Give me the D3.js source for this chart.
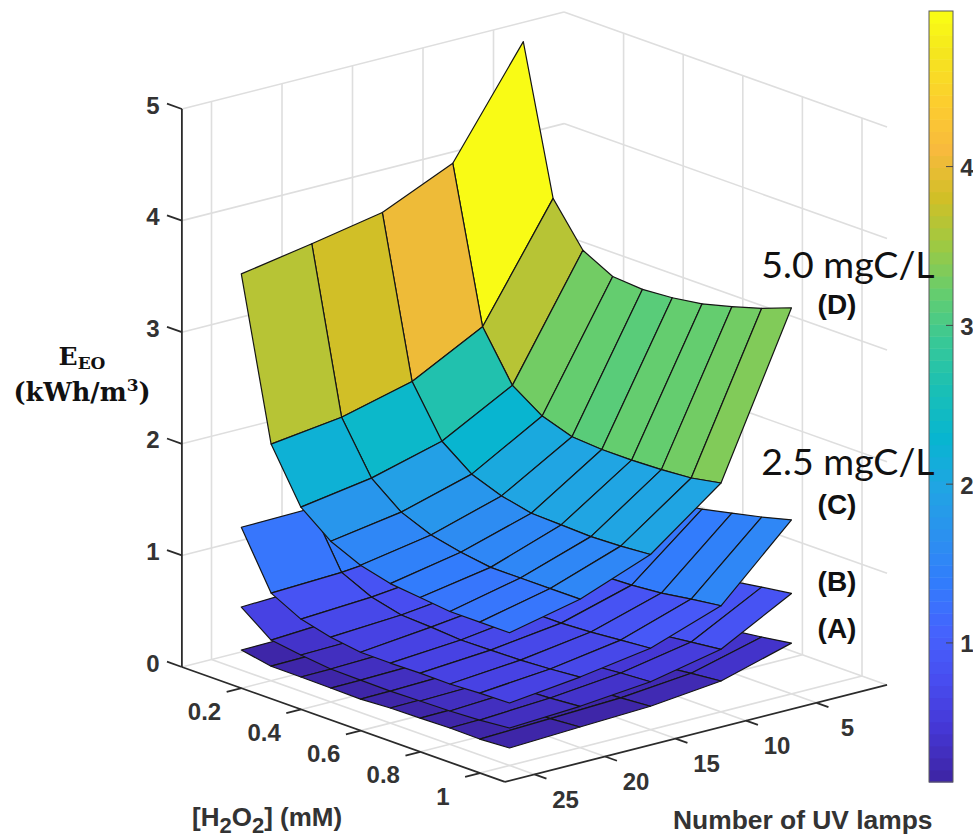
<!DOCTYPE html>
<html>
<head>
<meta charset="utf-8">
<script src="https://cdnjs.cloudflare.com/ajax/libs/d3/7.8.5/d3.min.js"></script>
<style>
  body { margin: 0; background: #fff; }
  text { font-family: "Liberation Sans", Arial, sans-serif; }
</style>
</head>
<body>
<div id="chart"></div>
<script>
var svgWidth = 973;
var svgHeight = 838;

// grid of the surfaces: rows are H2O2 (mM), columns are lamps
var h2o2 = [0.1, 0.2, 0.3, 0.4, 0.5, 0.6, 0.7, 0.8, 0.9, 1.0];
var lamps = [5, 10, 15, 20, 25];

// E_EO, [lamps 5, 10, 15, 20, 25] for every H2O2 value
var surfaceA = [
  [0.40, 0.26, 0.21, 0.19, 0.18],
  [0.32, 0.20, 0.16, 0.14, 0.13],
  [0.29, 0.18, 0.15, 0.135, 0.128],
  [0.28, 0.18, 0.15, 0.13, 0.124],
  [0.29, 0.18, 0.15, 0.13, 0.12],
  [0.30, 0.19, 0.155, 0.145, 0.135],
  [0.33, 0.205, 0.165, 0.15, 0.14],
  [0.38, 0.22, 0.175, 0.16, 0.146],
  [0.415, 0.25, 0.19, 0.165, 0.142],
  [0.455, 0.276, 0.21, 0.185, 0.157]
];
var surfaceB = [
  [1.15, 0.85, 0.70, 0.59, 0.565],
  [0.85, 0.55, 0.45, 0.40, 0.364],
  [0.78, 0.47, 0.39, 0.34, 0.325],
  [0.75, 0.44, 0.35, 0.315, 0.295],
  [0.74, 0.44, 0.345, 0.305, 0.29],
  [0.75, 0.45, 0.345, 0.305, 0.287],
  [0.78, 0.48, 0.36, 0.31, 0.293],
  [0.82, 0.498, 0.39, 0.335, 0.298],
  [0.862, 0.53, 0.413, 0.349, 0.312],
  [0.90, 0.56, 0.43, 0.37, 0.336]
];
var surfaceC = [
  [1.80, 1.46, 1.36, 1.29, 1.28],
  [1.36, 1.00, 0.87, 0.81, 0.785],
  [1.29, 0.88, 0.75, 0.684, 0.647],
  [1.27, 0.83, 0.69, 0.618, 0.58],
  [1.30, 0.83, 0.68, 0.605, 0.54],
  [1.33, 0.84, 0.67, 0.584, 0.538],
  [1.37, 0.85, 0.67, 0.589, 0.543],
  [1.43, 0.874, 0.685, 0.594, 0.54],
  [1.49, 0.915, 0.708, 0.609, 0.554],
  [1.56, 0.95, 0.73, 0.632, 0.56]
];
var surfaceD = [
  [4.99, 4.06, 3.78, 3.66, 3.55],
  [3.68, 2.69, 2.36, 2.20, 2.12],
  [3.31, 2.26, 1.92, 1.75, 1.65],
  [3.17, 2.08, 1.72, 1.54, 1.44],
  [3.15, 1.99, 1.62, 1.43, 1.32],
  [3.17, 1.97, 1.56, 1.37, 1.25],
  [3.21, 1.97, 1.55, 1.33, 1.22],
  [3.28, 1.98, 1.54, 1.33, 1.19],
  [3.36, 2.00, 1.55, 1.33, 1.19],
  [3.46, 2.05, 1.57, 1.33, 1.19]
];

var h2o2Ticks = [0.2, 0.4, 0.6, 0.8, 1];
var h2o2TickLabels = ["0.2", "0.4", "0.6", "0.8", "1"];
var lampTicks = [5, 10, 15, 20, 25];
var zTicks = [0, 1, 2, 3, 4, 5];
var colorTicks = [1, 2, 3, 4];

// limits of the box and of the colour range
var h2o2Max = 1.084;
var lampMax = 27.1;
var zMax = 5;
var colorDomain = [0.124, 4.98];

// parula, sampled along its 64 levels
var parulaLevels = [0, 4, 8, 12, 16, 20, 24, 28, 32, 36, 40, 44, 48, 52, 56, 60, 63];
var parulaColors = ["#3e26a8", "#4537d5", "#484df0", "#4563fd", "#327cfc", "#2b91ef",
  "#20a5e3", "#08b5d0", "#19bfb6", "#37c897", "#64cd6f", "#9dc943", "#d1bf27",
  "#f8ba3d", "#fcce2e", "#f5e61e", "#f9fb15"];

// oblique view: every scale gives a screen offset from the back corner of the floor
var backX = 564;
var backY = 570;
var h2o2X = d3.scaleLinear().domain([0, 1]).range([0, 298]);
var h2o2Y = d3.scaleLinear().domain([0, 1]).range([0, 106]);
var lampX = d3.scaleLinear().domain([0, 1]).range([0, -14.1]);
var lampY = d3.scaleLinear().domain([0, 1]).range([0, 3.58]);
var zY = d3.scaleLinear().domain([0, zMax]).range([0, -558]);

function px(h, n) {
  return backX + h2o2X(h) + lampX(n);
}
function py(h, n, z) {
  return backY + h2o2Y(h) + lampY(n) + zY(z);
}
function segment(a, b) {
  return "M" + px(a[0], a[1]) + "," + py(a[0], a[1], a[2]) +
    "L" + px(b[0], b[1]) + "," + py(b[0], b[1], b[2]);
}

var levelColor = d3.scaleLinear().domain(parulaLevels).range(parulaColors);
var colormap = d3.range(64).map(d => levelColor(d));
var colorScale = d3.scaleQuantize().domain(colorDomain).range(colormap);

var svg = d3.select("#chart")
  .append("svg")
  .attr("width", svgWidth)
  .attr("height", svgHeight)
  .style("display", "block");

// grid on the two back walls and the floor
var gridLines = [];
zTicks.forEach(function(z) {
  gridLines.push(segment([0, lampMax, z], [0, 0, z]));
  gridLines.push(segment([0, 0, z], [h2o2Max, 0, z]));
});
lampTicks.forEach(function(n) {
  gridLines.push(segment([0, n, 0], [0, n, zMax]));
  gridLines.push(segment([0, n, 0], [h2o2Max, n, 0]));
});
h2o2Ticks.forEach(function(h) {
  gridLines.push(segment([h, 0, 0], [h, 0, zMax]));
  gridLines.push(segment([h, 0, 0], [h, lampMax, 0]));
});

svg.append("g")
  .selectAll("path")
  .data(gridLines)
  .enter()
  .append("path")
  .attr("d", d => d)
  .attr("fill", "none")
  .attr("stroke", "#dedede")
  .attr("stroke-width", 1.6);

// axis lines and ticks
var axisColor = "#2b2b2b";
var axisLines = [
  segment([0, lampMax, 0], [0, lampMax, zMax]),
  segment([0, lampMax, 0], [h2o2Max, lampMax, 0]),
  segment([h2o2Max, lampMax, 0], [h2o2Max, 0, 0])
];
zTicks.forEach(function(z) {
  axisLines.push(segment([0, lampMax, z], [-0.05, lampMax, z]));
});
h2o2Ticks.forEach(function(h) {
  axisLines.push(segment([h, lampMax, 0], [h, lampMax + 1.05, 0]));
});
lampTicks.forEach(function(n) {
  axisLines.push(segment([h2o2Max, n, 0], [h2o2Max + 0.04, n, 0]));
});

svg.append("g")
  .selectAll("path")
  .data(axisLines)
  .enter()
  .append("path")
  .attr("d", d => d)
  .attr("fill", "none")
  .attr("stroke", axisColor)
  .attr("stroke-width", 1.8);

// surfaces, lowest first and back to front inside each one.
// A face takes the colour of its first corner, as surf does.
function facesOf(values) {
  var faces = [];
  d3.range(h2o2.length - 1).forEach(function(i) {
    d3.range(lamps.length - 1).forEach(function(j) {
      var corners = [[i, j], [i + 1, j], [i + 1, j + 1], [i, j + 1]];
      faces.push({
        value: values[i][j],
        points: corners.map(c => [
          px(h2o2[c[0]], lamps[c[1]]),
          py(h2o2[c[0]], lamps[c[1]], values[c[0]][c[1]])
        ])
      });
    });
  });
  return faces;
}

var faceLine = d3.line();

[surfaceA, surfaceB, surfaceC, surfaceD].forEach(function(values) {
  svg.append("g")
    .selectAll("path")
    .data(facesOf(values))
    .enter()
    .append("path")
    .attr("d", d => faceLine(d.points) + "Z")
    .attr("fill", d => colorScale(d.value))
    .attr("stroke", "#151515")
    .attr("stroke-width", 1.2)
    .attr("stroke-linejoin", "round");
});

// tick labels
function tickLabel(x, y, label) {
  svg.append("text")
    .attr("x", x)
    .attr("y", y)
    .attr("text-anchor", "middle")
    .attr("dominant-baseline", "central")
    .style("font-size", "24px")
    .style("font-weight", "bold")
    .style("fill", "#333")
    .text(label);
}

zTicks.forEach(function(z) {
  tickLabel(px(0, lampMax) - 29, py(0, lampMax, z) - 4, z);
});
h2o2Ticks.forEach(function(h, i) {
  tickLabel(px(h, lampMax) - 37, py(h, lampMax, 0) + 23, h2o2TickLabels[i]);
});
lampTicks.forEach(function(n) {
  tickLabel(px(h2o2Max, n) + 31, py(h2o2Max, n, 0) + 25, n);
});

// axis titles
var h2o2Title = svg.append("text")
  .attr("x", 192)
  .attr("y", 826)
  .style("font-size", "26px")
  .style("font-weight", "bold")
  .style("fill", "#333");
h2o2Title.append("tspan").text("[H");
h2o2Title.append("tspan").attr("dy", 7).style("font-size", "22px").text("2");
h2o2Title.append("tspan").attr("dy", -7).text("O");
h2o2Title.append("tspan").attr("dy", 7).style("font-size", "22px").text("2");
h2o2Title.append("tspan").attr("dy", -7).text("] (mM)");

svg.append("text")
  .attr("x", 673)
  .attr("y", 829)
  .style("font-size", "26.4px")
  .style("font-weight", "bold")
  .style("fill", "#333")
  .text("Number of UV lamps");

var zTitle = svg.append("text")
  .attr("x", 82)
  .attr("y", 365)
  .attr("text-anchor", "middle")
  .style("font-family", "'DejaVu Serif', serif")
  .style("font-size", "25px")
  .style("font-weight", "bold")
  .style("fill", "#111");
zTitle.append("tspan").text("E");
zTitle.append("tspan").attr("dy", 4).style("font-size", "17px").text("EO");

var zUnit = svg.append("text")
  .attr("x", 82)
  .attr("y", 401)
  .attr("text-anchor", "middle")
  .style("font-family", "'DejaVu Serif', serif")
  .style("font-size", "25.5px")
  .style("font-weight", "bold")
  .style("fill", "#111");
zUnit.append("tspan").text("(kWh/m");
zUnit.append("tspan").attr("dy", -10).style("font-size", "17px").text("3");
zUnit.append("tspan").attr("dy", 10).text(")");

// colour bar
var barX = 929;
var barWidth = 24;
var barScale = d3.scaleLinear().domain(colorDomain).range([782, 11]);
var levelStep = (colorDomain[1] - colorDomain[0]) / colormap.length;

svg.append("g")
  .selectAll("rect")
  .data(colormap)
  .enter()
  .append("rect")
  .attr("x", barX)
  .attr("width", barWidth)
  .attr("y", (d, i) => barScale(colorDomain[0] + (i + 1) * levelStep))
  .attr("height", barScale(colorDomain[0]) - barScale(colorDomain[0] + levelStep) + 0.5)
  .attr("fill", d => d);

svg.append("rect")
  .attr("x", barX)
  .attr("y", barScale(colorDomain[1]))
  .attr("width", barWidth)
  .attr("height", barScale(colorDomain[0]) - barScale(colorDomain[1]))
  .attr("fill", "none")
  .attr("stroke", "#5a5a5a")
  .attr("stroke-width", 1);

colorTicks.forEach(function(d) {
  svg.append("line")
    .attr("x1", barX + barWidth)
    .attr("x2", barX + barWidth - 7)
    .attr("y1", barScale(d))
    .attr("y2", barScale(d))
    .attr("stroke", "#444")
    .attr("stroke-width", 1);
  tickLabel(barX + barWidth + 14, barScale(d) + 1, d);
});

// annotations sit on top of everything
function note(x, y, label, size, family, weight) {
  svg.append("text")
    .attr("x", x)
    .attr("y", y)
    .attr("text-anchor", "middle")
    .style("font-family", family)
    .style("font-size", size)
    .style("font-weight", weight)
    .style("fill", "#111")
    .text(label);
}

note(848, 278, "5.0 mgC/L", "37.5px", "Lato, sans-serif", "normal");
note(848, 475, "2.5 mgC/L", "37.5px", "Lato, sans-serif", "normal");
note(837, 314, "(D)", "28px", "'Liberation Sans', sans-serif", "bold");
note(837, 514, "(C)", "28px", "'Liberation Sans', sans-serif", "bold");
note(837, 591, "(B)", "28px", "'Liberation Sans', sans-serif", "bold");
note(837, 638, "(A)", "28px", "'Liberation Sans', sans-serif", "bold");
</script>
</body>
</html>
